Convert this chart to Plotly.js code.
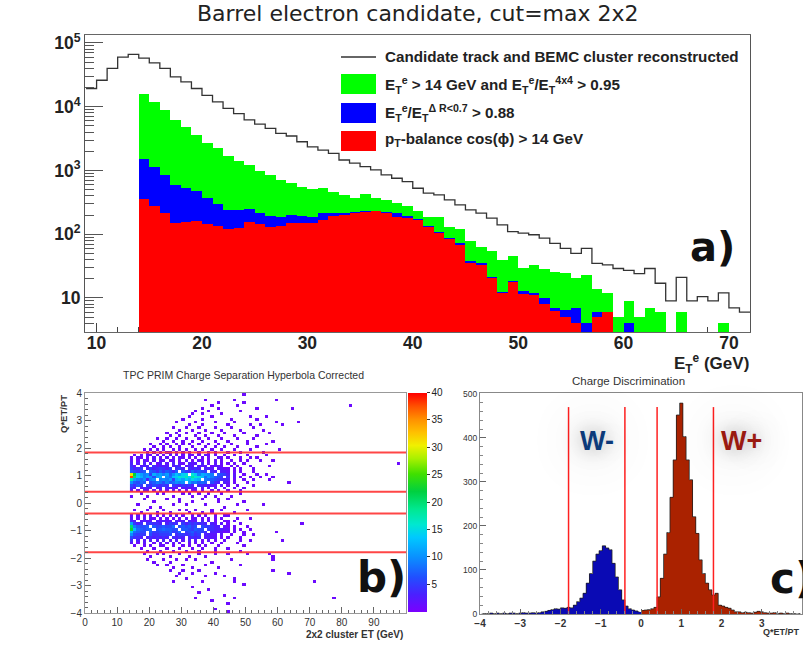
<!DOCTYPE html>
<html><head><meta charset="utf-8">
<script src="https://cdn.plot.ly/plotly-3.0.1.min.js"></script>
<style>html,body{margin:0;padding:0;background:#fff}#chart{width:803px;height:645px}</style>
</head><body><div id="chart"></div>
<script>
// ---------- Panel a: E_T^e histograms (1 GeV bins, left edges) ----------
const etBins = [9,10,11,12,13,14,15,16,17,18,19,20,21,22,23,24,25,26,27,28,29,30,31,32,33,34,35,36,37,38,39,40,41,42,43,44,45,46,47,48,49,50,51,52,53,54,55,56,57,58,59,60,61,62,63,64,65,66,67,68,69,70,71];
const candidate = [19300,26000,40000,60000,66000,58000,48600,39800,29400,24500,19300,15100,11900,9400,7800,6200,5350,4570,3820,3470,2820,2350,2090,1860,1460,1300,1150,1020,850,755,668,526,440,414,345,288,241,214,179,140,110,104,98,87,72,60,50,60,35,33,29,27,24,29,17,9,21,9,10.5,9,12,7,6];
const greenCut = [null,null,null,null,null,16100,11900,8850,6300,4740,3600,2660,2220,1690,1420,1220,990,850,710,645,557,507,526,466,414,367,428,367,345,307,278,230,189,189,132,120,77,64,54,40,45,29.5,33,28,26,24.5,20.6,23,14,12,5,8.9,5,7,6,0,6,0,0,0,4,0,0];
const blueCut = [null,null,null,null,null,1500,1120,850,600,540,480,370,300,241,240,245,214,194,189,201,194,189,214,214,214,222,232,235,227,214,195,172,135,110,86,72,38,35,21,12.5,18.5,13,12,10,7,6.5,7,4,6,6,0,4,0,0,0,0,0,0,0,0,0,0,0];
const redCut = [null,null,null,null,null,354,275,214,152,158,164,144,135,121,124,158,146,132,135,152,152,152,168,194,201,214,227,232,214,185,180,165,128,105,83,68,35,33,20.6,12,18,11.6,11.3,7.9,6.2,5.1,4.1,0,5,6,0,0,0,0,0,0,0,0,0,0,0,0,0];
const aYTickVals = [10,100,1000,10000,100000];
const aYTickText = ['10','10<sup>2</sup>','10<sup>3</sup>','10<sup>4</sup>','10<sup>5</sup>'];
const aXTickVals = [10,20,30,40,50,60,70];

// ---------- Panel b: 2D histogram, 1 GeV x 0.1 bins, x from 14 (groups of 10 columns split by '|'),
// rows from top (3.9..4.0) to bottom (-4.0..-3.9); '.' empty, digits 1-9, A-Z = 10-35, '#' = 38
const ptRows = [
"..........|..........|..........|.....1",
"",
"..........|..........|...1......|..1.......|.....1",
"..........|..........|.......1..|.....1",
"..........|..........|.....1....|...1......|..........|..........|........1",
"..........|..........|..1....1..|.........1|..........|1",
"..........|..........|1...1.....|....1",
"..........|.........1|..1.....1.",
"..........|........1.|.....1....|.......1..|..1",
"..........|......1...|..1.......|.1.......1",
"..........|....1.....|1.....1...|..1.......|.....1....|..1",
"..........|........1.|..1.......|1......1..|1......1",
"..........|...1...1..|.1....1...|.1......1.",
"..........|.....1...1|...1....1.|....1.....|.1",
"..........|.1..1..1..|.1...1...1|.....1....|...1",
"..........|..1..1....|1..1...1..|..1......1",
"........1.|.1..1..1..|.1..1...1.|...1....1.",
"..........|1..1..1..1|..1...1...|1.....1...|....1",
"......1..1|.1..1.1.1.|.1..1..1..|.1....1...|..1",
".......1..|1.1..1...1|...1..1..1|...1.....1",
"....1.1.1.|1..1.1.1..|1.1..1..1.|..1....1..|......1",
".....1.1.1|.11.1.1.1.|.1..1.1...|1...1.....|.1",
".1.1.21.1.|1.2.1.1.21|.1.21.1..1|..1...1...|..1",
"1.21.1.2.1|.2.1.21.1.|1.1.1..21.|1...1..1.1",
"2.1.21.2.1|2.12.1.2.1|.21.1.2.1.|.1..1.1...|1...1",
"3.2.3.2.13|.2.3.21.32|2.3.1.2.1.|1.1..1....|..........|..........|..........|..........|...1",
"42.233.423|23.243.232|.322.1221.|.1.1...1..|...1",
"5345.35345|435.453.43|43.332.221|1.1.1...1.",
"76567.7647|57647.7548|6765.43.33|2.1.1...1.",
"UMDB9A5CAB|9B7ADBEF.G|E9CBA9.765|3.2..1...1|..1",
"#KEC9BA6BC|.A8DEGFHEI|GFD8B9765.|4.2.1..1..|1...1",
"HB98A39A.9|A9B5CDBECF|DC.9876543|3.1..1..1.|...1",
"A7687.6798|6978A9A.B8|9787.643.3|2.1...1...|.........1",
"6475.54654|54.5435453|.443322.2.|1..1....1.",
"43.2332.23|.3322.2322|3.2.1.2..1|..1..1",
"2.1.21.1.2|.1.2.1.1.1|1.1..1.1..|1...1",
"...1....1.|1.....1.1.|.1..1...1.|....1",
"1....1....|...1.....1|...1..1...|.1",
"....1.....|.1...1....|..1....1..|1",
".......1..|.....1...1|.......1..|.....1",
"..1.......|...1...1..|...1......|...1......|.1",
"......1..1|..........|.........1",
".1...1....|1....1.1..|1....1..1.|......1",
"...1....1.|..1.....1.|..1..1....|..1",
"1.2.1.1.1.|1.1.2.1..1|.1.1..1..1|1",
"2.1.2.21.1|.2.1.1.2.1|2.1.1.1.1.|...1...1",
"43.2322.32|322.323.32|2.3.2.1..1|1.1",
"B534.45443|.3544.5354|5443.32.2.|1...1.....|..........|...1",
"K97667.756|7668.67675|6.655433.2|1.1...1...",
"ND87678.67|87766.7765|766.543332|2.1.1..1..",
"E8766.7556|667558.567|5654.33221|1.1..1....|.....1",
"A6555.6445|556.455456|45.3322.2.|.1...1..1.",
"6443.34343|43.4343.34|34.2322.1.|1...1....",
"4.3.2.3.2.|3.2.3.2.3.|2.1.2.1..1|....1..1..|.......1",
"2.1.2..1.2|.1.2.1..1.|1.1..1..1.|...1",
".1..1.1..1|1..1..1.1.|.1.1...1..|.....1",
"...1...1..|.1...1...1|..1...1...|1",
".....1...1|...1...1..|.1....1...|....1",
"....1...1.|1....1....|.1....1...|1.....1...|...1",
"......1...|..1.....1.|...1......|..........|....1",
".....1....|1...1..1..|1.........|.1........|....1",
".......1..|..1.......|.....1....",
"........1.|.1....1...|...1......|....1",
"..........|...1.....1|.......1..",
"..........|..1...1...|.1........|..........|....1",
"..........|.....1...1|......1...|..........|.........1",
"..........|....1.....|...1.....1",
"..........|.......1..|..........|..1",
"..........|...1......|..1.......|..1.......|..........|.......1",
"..........|..........|..........|.....1",
"..........|.........1",
"..........|..........|....1",
"..........|..........|.1",
"..........|..........|.........1",
"..........|..........|1.........|..1.......|..........|..........|...1",
"..........|..........|.....1",
"..........|..........|..........|1",
"",
"..........|..........|......1",
"..........|..........|..........|1"
];
const bCuts = [1.84, 0.41, -0.38, -1.79];
const bColorTicks = [5,10,15,20,25,30,35,40];

// ---------- Panel c: charge discrimination, 0.08 bins ----------
const negCounts = [0,1,1,2,1,2,1,2,1,2,2,1,2,3,2,2,3,2,3,5,6,8,10,12,11,14,13,15,14,20,28,36,47,70,92,120,136,144,155,150,146,115,84,55,32,18,12,9,7,5];
const posCounts = [8,9,10,12,15,39,81,136,185,265,350,452,479,403,350,305,221,183,123,92,70,55,43,47,20,18,15,13,9,5,5,3,4,3,2,4,6,5,3,2,2,3,1,2,1,2,1,1,0,1];
const cCuts = [-1.8, -0.4, 0.4, 1.8];
const cCutTop = 470;

// ---------- helpers ----------
const W = 803, H = 645;
const fx = p => p / W;
const fy = p => 1 - p / H;
const FONT = 'Liberation Sans, Arial, sans-serif';

function decodeRow(s) {
  const t = s.replace(/\|/g, '');
  const out = [];
  for (const ch of t) {
    if (ch === '.') out.push(null);
    else if (ch >= '0' && ch <= '9') out.push(+ch);
    else if (ch === '#') out.push(38);
    else out.push(ch.charCodeAt(0) - 55);
  }
  return out;
}
let rows = ptRows.map(decodeRow);
const maxLen = Math.max(...rows.map(r => r.length));
rows = rows.map(r => r.concat(new Array(maxLen - r.length).fill(null)));
const zGrid = rows.slice().reverse();

const traces = [];
// panel a
const etCenters = etBins.map(v => v + 0.5);
[[greenCut, '#00ff00'], [blueCut, '#0000ff'], [redCut, '#ff0000']].forEach(([arr, col]) => {
  traces.push({type: 'bar', x: etCenters, y: arr, width: 1, marker: {color: col, line: {width: 0}},
    xaxis: 'x', yaxis: 'y', hoverinfo: 'skip'});
});
traces.push({type: 'scatter', mode: 'lines', x: etBins.concat([etBins[etBins.length - 1] + 1]),
  y: candidate.concat([candidate[candidate.length - 1]]), line: {shape: 'hv', color: '#333', width: 1.3},
  xaxis: 'x', yaxis: 'y', hoverinfo: 'skip'});

// panel b
const rainbow = [
  [0, '#7b00ff'], [0.08, '#4a20ff'], [0.16, '#2050ff'], [0.25, '#0a90ff'], [0.34, '#00c8ff'],
  [0.4, '#00e8d0'], [0.47, '#00e890'], [0.55, '#00d040'], [0.63, '#40e000'], [0.7, '#a8f000'],
  [0.76, '#f0f000'], [0.82, '#ffc000'], [0.88, '#ff9000'], [0.94, '#ff5000'], [1, '#ff0000']];
traces.push({type: 'heatmap', z: zGrid, x0: 14.5, dx: 1, y0: -3.95, dy: 0.1, zmin: 0, zmax: 40,
  colorscale: rainbow, xaxis: 'x2', yaxis: 'y2', hoverinfo: 'skip', zsmooth: false,
  colorbar: {x: fx(408), xanchor: 'left', xpad: 0, ypad: 0, y: fy(502), yanchor: 'middle',
    len: 219, lenmode: 'pixels', thickness: 19, thicknessmode: 'pixels', outlinewidth: 0,
    tickvals: bColorTicks, ticks: 'outside', ticklen: 3, tickcolor: '#333',
    tickfont: {family: FONT, size: 10, color: '#222'}}});
const bx = [], by = [];
bCuts.forEach(c => { bx.push(0, 100, null); by.push(c, c, null); });
traces.push({type: 'scatter', mode: 'lines', x: bx, y: by, line: {color: 'rgba(255,50,50,0.9)', width: 2},
  xaxis: 'x2', yaxis: 'y2', hoverinfo: 'skip'});

// panel c
traces.push({type: 'bar', y: negCounts, x0: -3.96, dx: 0.08, width: 0.08,
  marker: {color: '#0a0ab4', line: {width: 0}}, xaxis: 'x3', yaxis: 'y3', hoverinfo: 'skip'});
traces.push({type: 'bar', y: posCounts, x0: 0.04, dx: 0.08, width: 0.08,
  marker: {color: '#aa2200', line: {width: 0}}, xaxis: 'x3', yaxis: 'y3', hoverinfo: 'skip'});
traces.push({type: 'scatter', mode: 'lines', y: negCounts, x0: -3.96, dx: 0.08,
  line: {shape: 'hvh', color: '#222', width: 0.8}, xaxis: 'x3', yaxis: 'y3', hoverinfo: 'skip'});
traces.push({type: 'scatter', mode: 'lines', y: posCounts, x0: 0.04, dx: 0.08,
  line: {shape: 'hvh', color: '#222', width: 0.8}, xaxis: 'x3', yaxis: 'y3', hoverinfo: 'skip'});
const cx = [], cy = [];
cCuts.forEach(c => { cx.push(c, c, null); cy.push(0, cCutTop, null); });
traces.push({type: 'scatter', mode: 'lines', x: cx, y: cy, line: {color: '#ff2020', width: 1.5},
  xaxis: 'x3', yaxis: 'y3', hoverinfo: 'skip'});

const axBase = {showgrid: false, zeroline: false, showline: true, mirror: true, fixedrange: true};
const LEG = {family: FONT, size: 15.2, color: '#222', weight: 'bold'};
const GLOW = '0 0 20px rgba(0,0,0,0.35), 0 0 45px rgba(0,0,0,0.3), 0 0 80px rgba(0,0,0,0.25)';
const annotations = [
  {text: 'Barrel electron candidate, cut=max 2x2', x: fx(418), y: fy(14), font: {family: 'DejaVu Sans', size: 22, color: '#222'}},
  {text: 'Candidate track and BEMC cluster reconstructed', x: fx(383), y: fy(57), xanchor: 'left', font: LEG},
  {text: 'E<sub>T</sub><sup>e</sup> > 14 GeV and E<sub>T</sub><sup>e</sup>/E<sub>T</sub><sup>4x4</sup> > 0.95', x: fx(383), y: fy(85), xanchor: 'left', font: LEG},
  {text: 'E<sub>T</sub><sup>e</sup>/E<sub>T</sub><sup>Δ R&lt;0.7</sup> > 0.88', x: fx(383), y: fy(113), xanchor: 'left', font: LEG},
  {text: 'p<sub>T</sub>-balance cos(ϕ) > 14 GeV', x: fx(383), y: fy(140), xanchor: 'left', font: LEG},
  {text: 'E<sub>T</sub><sup>e</sup> (GeV)', x: fx(751), y: fy(363), xanchor: 'right', font: {family: FONT, size: 17, color: '#222', weight: 'bold'}},
  {text: 'a)', x: fx(712), y: fy(247), font: {family: 'DejaVu Sans', size: 40, color: '#111', weight: 'bold'}},
  {text: 'TPC PRIM Charge Separation Hyperbola Corrected', x: fx(243), y: fy(375), font: {family: FONT, size: 10.5, color: '#333'}},
  {text: 'Q*ET/PT', x: fx(63), y: fy(414), textangle: -90, font: {family: FONT, size: 9.5, color: '#333', weight: 'bold'}},
  {text: '2x2 cluster ET (GeV)', x: fx(405), y: fy(634), xanchor: 'right', font: {family: FONT, size: 10, color: '#333', weight: 'bold'}},
  {text: 'b)', x: fx(381), y: fy(577), font: {family: 'DejaVu Sans', size: 42, color: '#111', weight: 'bold'}},
  {text: 'Charge Discrimination', x: fx(628), y: fy(381), font: {family: FONT, size: 11.5, color: '#333'}},
  {text: 'Q*ET/PT', x: fx(802), y: fy(632), xanchor: 'right', font: {family: FONT, size: 9, color: '#333', weight: 'bold'}},
  {text: 'W-', x: fx(597), y: fy(441), font: {family: FONT, size: 27, color: '#0c3a7a', weight: 'bold', shadow: GLOW}},
  {text: 'W+', x: fx(741), y: fy(441), font: {family: FONT, size: 27, color: '#9a1a10', weight: 'bold', shadow: GLOW}},
  {text: 'c)', x: fx(792), y: fy(578), font: {family: 'DejaVu Sans', size: 42, color: '#111', weight: 'bold'}}
].map(a => Object.assign({xref: 'paper', yref: 'paper', showarrow: false, xanchor: 'center', yanchor: 'middle'}, a));

const shapes = [
  {type: 'line', x0: fx(341), x1: fx(376), y0: fy(57), y1: fy(57), line: {color: '#333', width: 1.3}},
  {type: 'rect', x0: fx(341), x1: fx(376), y0: fy(94), y1: fy(74), fillcolor: '#00ff00', line: {width: 0}},
  {type: 'rect', x0: fx(341), x1: fx(376), y0: fy(123), y1: fy(103), fillcolor: '#0000ff', line: {width: 0}},
  {type: 'rect', x0: fx(341), x1: fx(376), y0: fy(151), y1: fy(131), fillcolor: '#ff0000', line: {width: 0}}
].map(s => Object.assign({xref: 'paper', yref: 'paper'}, s));

const layout = {
  width: W, height: H, margin: {l: 0, r: 0, t: 0, b: 0}, paper_bgcolor: '#fff', plot_bgcolor: 'rgba(0,0,0,0)',
  showlegend: false, barmode: 'overlay', bargap: 0, font: {family: FONT},
  xaxis: Object.assign({}, axBase, {domain: [fx(85), fx(750)], range: [8.9, 72], anchor: 'y', tickvals: aXTickVals,
    ticks: 'inside', ticklen: 9, tickcolor: '#444', linecolor: '#666', layer: 'below traces', ticklabelstandoff: -5,
    minor: {ticks: 'inside', ticklen: 5, dtick: 2, tickcolor: '#444'},
    tickfont: {family: FONT, size: 17.5, color: '#222', weight: 'bold'}}),
  yaxis: Object.assign({}, axBase, {domain: [fy(332), fy(35)], type: 'log', range: [0.466, 5.125], anchor: 'x',
    tickvals: aYTickVals, ticktext: aYTickText, ticks: 'inside', ticklen: 18, tickcolor: '#555', linecolor: '#555',
    minor: {ticks: 'inside', ticklen: 9, tickcolor: '#555', dtick: 'D1'},
    tickfont: {family: FONT, size: 17.5, color: '#222', weight: 'bold'}}),
  xaxis2: Object.assign({}, axBase, {domain: [fx(85), fx(406)], range: [0, 100], anchor: 'y2',
    tickvals: [0,10,20,30,40,50,60,70,80,90], ticks: 'inside', ticklen: 6, tickcolor: '#666', linecolor: '#999',
    minor: {ticks: 'inside', ticklen: 3, dtick: 2, tickcolor: '#666'},
    tickfont: {family: FONT, size: 10, color: '#333'}}),
  yaxis2: Object.assign({}, axBase, {domain: [fy(613), fy(393)], range: [-4, 4], anchor: 'x2', dtick: 1,
    ticks: 'inside', ticklen: 6, tickcolor: '#666', linecolor: '#999',
    minor: {ticks: 'inside', ticklen: 3, dtick: 0.2, tickcolor: '#666'},
    tickfont: {family: FONT, size: 10, color: '#333'}}),
  xaxis3: Object.assign({}, axBase, {domain: [fx(480), fx(802)], range: [-4, 4], anchor: 'y3', dtick: 1,
    ticks: 'inside', ticklen: 5, tickcolor: '#666', linecolor: '#888',
    minor: {ticks: 'inside', ticklen: 3, dtick: 0.2, tickcolor: '#888'},
    tickfont: {family: FONT, size: 10, color: '#333', weight: 'bold'}}),
  yaxis3: Object.assign({}, axBase, {domain: [fy(614), fy(393)], range: [0, 502], anchor: 'x3',
    tickvals: [0,100,200,300,400,500], ticks: 'inside', ticklen: 6, tickcolor: '#666', linecolor: '#888',
    minor: {ticks: 'inside', ticklen: 3, dtick: 20, tickcolor: '#888'},
    tickfont: {family: FONT, size: 8.5, color: '#333'}}),
  annotations: annotations, shapes: shapes
};
Plotly.newPlot('chart', traces, layout, {displayModeBar: false, staticPlot: true});
</script>
</body></html>
